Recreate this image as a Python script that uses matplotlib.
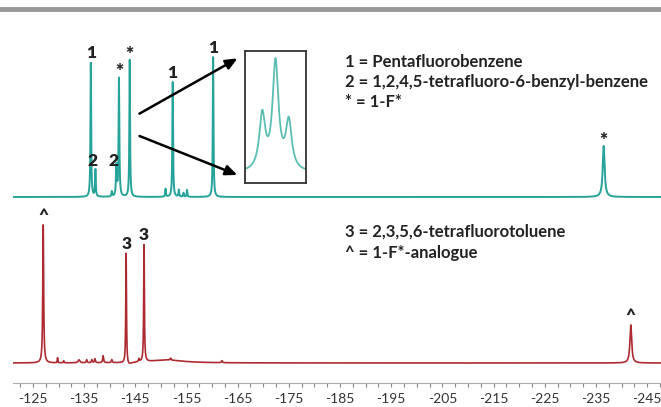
import matplotlib.pyplot as plt
import numpy as np
from matplotlib.lines import Line2D

plt.rcParams['font.family'] = ['Lato', 'DejaVu Sans']

# 19F NMR peak lists (ppm, height, half-width in ppm)
top_ppm = [-136.3, -137.2, -140.4, -141.3, -141.8, -143.9, -150.9, -152.3,
           -153.5, -154.4, -155.1, -160.2, -236.5]
top_height = [134, 27, 5, 30, 118, 137, 8, 115, 7, 4, 7, 140, 51]
top_width = [0.08, 0.08, 0.08, 0.1, 0.09, 0.08, 0.08, 0.08, 0.08, 0.08, 0.08, 0.08, 0.22]

bot_ppm = [-127.0, -129.8, -131.0, -134.0, -135.5, -136.5, -137.1, -138.7,
           -140.4, -143.2, -145.7, -146.7, -151.9, -161.9, -241.8, -151.0, -143.6]
bot_height = [138, 5, 2, 3, 3, 3, 4, 7, 3, 111, 3, 117, 2, 2, 38, 3, -3]
bot_width = [0.1, 0.06, 0.08, 0.2, 0.1, 0.1, 0.1, 0.1, 0.1, 0.08, 0.1, 0.08, 0.1, 0.1, 0.2, 4.0, 0.6]

# peak labels: (index into peak list, text)
top_labels = [(0, '1'), (1, '2'), (3, '2'), (4, '*'), (5, '*'), (7, '1'), (11, '1'), (12, '*')]
bot_labels = [(0, '^'), (9, '3'), (11, '3'), (14, '^')]

# zoomed triplet shown in the inset
inset_pos = [-1.0, 0.0, 1.0]
inset_height = [55, 108, 48]
inset_width = 0.27

legend_top = ['1 = Pentafluorobenzene', '2 = 1,2,4,5-tetrafluoro-6-benzyl-benzene', '* = 1-F*']
legend_bot = ['3 = 2,3,5,6-tetrafluorotoluene', '^ = 1-F*-analogue']

teal = '#26a39a'
red = '#ad2a31'


def spectrum(x, pos, hgt, wid):
    y = np.zeros_like(x)
    for p, h, w in zip(pos, hgt, wid):
        y += h / (1 + ((x - p) / w) ** 2)
    return y


fig = plt.figure(figsize=(6.61, 4.07), dpi=100)
W, H = 661, 407
ax = fig.add_axes([13 / W, 24 / H, 648 / W, 383 / H])

x = np.linspace(-121.1, -247.7, 20000)
top_base = 186
bot_base = 20
y_top = spectrum(x, top_ppm, top_height, top_width) + top_base
y_bot = spectrum(x, bot_ppm, bot_height, bot_width) + bot_base
ax.plot(x, y_top, color=teal, lw=1.4)
ax.plot(x, y_bot, color=red, lw=1.2)

for i, t in top_labels:
    px = top_ppm[i]
    dx = -2 if t == '2' else 0
    py = np.interp(px, x[::-1], y_top[::-1])
    if t == '2':
        py = top_base + 27
    ax.annotate(t, (px, py), xytext=(dx, 1 if t != '*' else -2), textcoords='offset points',
                ha='center', va='bottom', fontsize=12.5 if t != '*' else 14,
                fontweight='heavy', color='#222222')
for i, t in bot_labels:
    px = bot_ppm[i]
    py = np.interp(px, x[::-1], y_bot[::-1])
    ax.annotate(t, (px, py), xytext=(0, 1), textcoords='offset points',
                ha='center', va='bottom', fontsize=12.5,
                fontweight='heavy', color='#222222')

ax.set_xlim(-121.1, -247.7)
ax.set_ylim(0, 383)
ax.set_xticks(np.arange(-125, -250, -10))
ax.set_xticks(np.arange(-122.5, -248, -2.5), minor=True)
ax.set_xticklabels([f'{v:d}' for v in range(-125, -250, -10)])
ax.tick_params(axis='x', which='both', direction='out', length=3, width=0.8,
               colors='#888888', labelcolor='#333333', labelsize=10, pad=4)
ax.set_yticks([])
for s in ['top', 'left', 'right']:
    ax.spines[s].set_visible(False)
ax.spines['bottom'].set_color('#aaaaaa')

for k, t in enumerate(legend_top):
    fig.text(345 / W, 1 - (62 + 20 * k) / H, t, fontsize=12, color='#222222',
             va='center', fontweight='bold')
for k, t in enumerate(legend_bot):
    fig.text(345 / W, 1 - (232 + 21 * k) / H, t, fontsize=12, color='#222222',
             va='center', fontweight='bold')

# inset with zoomed triplet
axi = fig.add_axes([245 / W, (H - 183) / H, 61 / W, 132 / H])
xi = np.linspace(-2.3, 2.3, 600)
axi.plot(xi, spectrum(xi, inset_pos, inset_height, [inset_width] * 3), color='#5cbdb3', lw=1.3)
axi.set_xlim(-2.3, 2.3)
axi.set_ylim(-10, 122)
axi.set_xticks([])
axi.set_yticks([])
for s in axi.spines.values():
    s.set_linewidth(1.3)
    s.set_color('#333333')

# arrows from the peak to the inset
for (x0, y0), (x1, y1) in [((137, 115), (240, 57)), ((137, 135), (240, 176))]:
    fig.add_artist(plt.Annotation('', xy=(x1, H - y1), xytext=(x0, H - y0),
                                  xycoords='figure pixels', textcoords='figure pixels',
                                  arrowprops=dict(arrowstyle='-|>,head_length=0.7,head_width=0.3',
                                                  color='black', lw=1.8)))

# grey bar across the top
fig.add_artist(Line2D([0, 1], [1 - 9 / H, 1 - 9 / H], color='#999999', lw=3.5))

fig.savefig('out.png', dpi=100)
